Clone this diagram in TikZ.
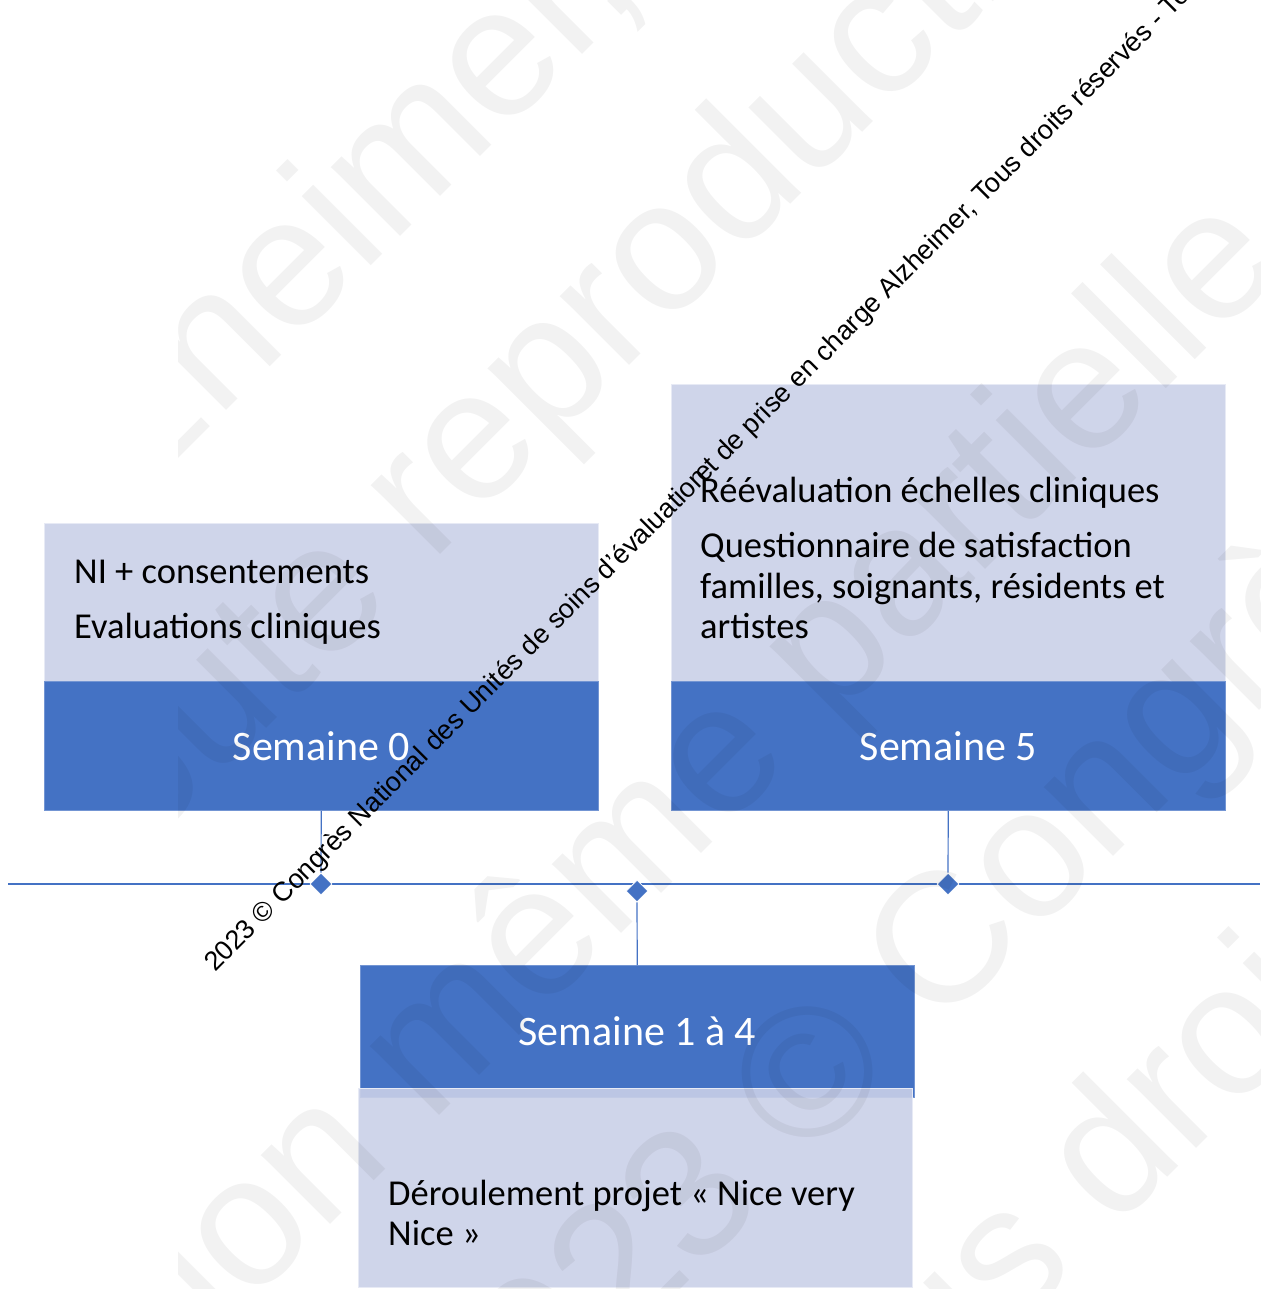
\documentclass[tikz,border=0pt]{standalone}
\usepackage{fontspec}
\setmainfont{Carlito}
\newfontfamily\arialfont{Liberation Sans}
\usetikzlibrary{shapes.geometric}
\definecolor{hdrblue}{HTML}{4472C4}
\definecolor{bodyblue}{RGB}{202,208,232}

\begin{document}
\begin{tikzpicture}[x=1pt,y=-1pt] \tikzset{% This is the style settings for nodes
        hdr/.style={rectangle, fill=hdrblue, draw=hdrblue!75!white, line width=0.8pt, inner sep=0pt,
          anchor=north west, minimum width=554pt, text=white, font=\fontsize{42}{50}\selectfont},
        body/.style={rectangle, fill=bodyblue, fill opacity=0.9, draw=white!55!bodyblue, line width=0.8pt,
          inner sep=0pt, anchor=north west, minimum width=554pt},
        txt/.style={anchor=base west, inner sep=0pt, font=\fontsize{36.5}{40.5}\selectfont},
        jalon/.style={diamond, fill=hdrblue, draw=white, line width=0.8pt, inner sep=0pt,
          minimum width=22pt, minimum height=22pt},
        c1/.style={draw=hdrblue, line width=1.2pt},
        c2/.style={draw=hdrblue, line width=2.4pt},
        wm/.style={anchor=base west, rotate=45, inner sep=0pt, text=black, text opacity=0.05,
          font=\arialfont\fontsize{185}{185}\selectfont},
        notice/.style={anchor=base west, rotate=45, inner sep=0pt, font=\arialfont\fontsize{27}{27}\selectfont},
        }
        \useasboundingbox (0,0) rectangle (1260,1289);
        \clip (0,0) rectangle (1260,1289);
        % Nodes
        \node[body, minimum height=158pt] (b0) at (44,523) {};
        \node[hdr, minimum height=129pt] (h0) at (44,681) {Semaine 0};
        \node[body, minimum height=297pt] (b5) at (671,384) {};
        \node[hdr, minimum height=129pt] (h5) at (671,681) {Semaine 5};
        \node[hdr, minimum height=132pt] (h14) at (360,965) {Semaine 1 à 4};
        \node[body, minimum height=199pt] (b14) at (358,1088) {};
        %Texts
        \node[txt] (t0a) at (74,583) {NI + consentements}; \node[txt] (t0b) at (74,638) {Evaluations cliniques};
        \node[txt] (t5a) at (700,502) {Réévaluation échelles cliniques};
        \node[txt] (t5b) at (700,557) {Questionnaire de satisfaction};
        \node[txt] (t5c) at (700,598) {familles, soignants, résidents et};
        \node[txt] (t5d) at (700,638) {artistes};
        \node[txt] (t14a) at (388,1205) {Déroulement projet « Nice very}; \node[txt] (t14b) at (388,1245) {Nice »};
        % Timeline
        \coordinate (tw) at (8,884); \coordinate (te) at (1260,884);
        \draw[c2] (tw) -- (te);
        \node[jalon] (d0) at (321,884) {}; \node[jalon] (d14) at (637,891) {}; \node[jalon] (d5) at (948,884) {};
        %Edges
        \draw[c1] (h0) -- (d0); \draw[c1] (h5) -- (d5); \draw[c1] (d14) -- (h14);
        % Notice
        \node[notice] (cr) at (215,973) {2023 © Congrès National des Unités de soins d’évaluation\hspace{-0.25em}et de prise en charge Alzheimer, Tous droits réservés - Toute};
        % Watermark
        \begin{scope}
        \clip (178,0) rectangle (1260,1289);
        \node[wm] (wa) at (35.5,601.5) {Alzheimer,};
        \node[wm] (wb) at (75.5,919.5) {Toute reproduction};
        \node[wm] (wc) at (-332.5,1887.5) {reproduction même partielle};
        \node[wm] (wd) at (477.5,1492.5) {2023 © Congrès};
        \node[wm] (we) at (802,1543) {Tous droits};
        \end{scope}
\end{tikzpicture}
\end{document}
